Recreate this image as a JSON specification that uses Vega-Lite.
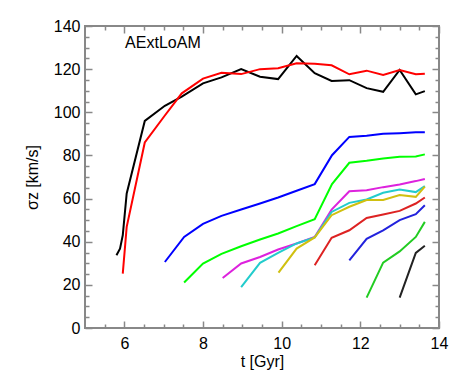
{
  "$schema": "https://vega.github.io/schema/vega-lite/v6.json",
  "width": 354,
  "height": 302,
  "autosize": {"type": "none"},
  "padding": {"left": 85, "top": 26, "right": 24, "bottom": 54},
  "background": "white",
  "config": {
    "view": {"stroke": "#888888", "strokeWidth": 2},
    "font": "Liberation Sans",
    "axis": {
      "domain": false,
      "grid": false,
      "tickColor": "#888888",
      "tickWidth": 1.5,
      "labelColor": "black",
      "labelFontSize": 16,
      "titleFontSize": 16,
      "titleFontWeight": "normal",
      "titleColor": "black"
    }
  },
  "data": {
    "values": [
      {"r": "a", "t": 5.80, "s": 33.7}, {"r": "a", "t": 5.89, "s": 36.8}, {"r": "a", "t": 5.96, "s": 43.0}, {"r": "a", "t": 6.06, "s": 62.4},
      {"r": "a", "t": 6.52, "s": 96.0}, {"r": "a", "t": 7.03, "s": 103.0}, {"r": "a", "t": 7.46, "s": 107.3}, {"r": "a", "t": 8.0, "s": 113.4},
      {"r": "a", "t": 8.47, "s": 116.2}, {"r": "a", "t": 8.97, "s": 120.0}, {"r": "a", "t": 9.45, "s": 116.5}, {"r": "a", "t": 9.91, "s": 115.4},
      {"r": "a", "t": 10.38, "s": 126.1}, {"r": "a", "t": 10.84, "s": 118.1}, {"r": "a", "t": 11.27, "s": 114.5}, {"r": "a", "t": 11.72, "s": 114.9},
      {"r": "a", "t": 12.16, "s": 111.2}, {"r": "a", "t": 12.58, "s": 109.5}, {"r": "a", "t": 13.0, "s": 119.6}, {"r": "a", "t": 13.41, "s": 108.3},
      {"r": "a", "t": 13.64, "s": 109.8},
      {"r": "b", "t": 5.96, "s": 25.2}, {"r": "b", "t": 6.06, "s": 46.9}, {"r": "b", "t": 6.52, "s": 86.0}, {"r": "b", "t": 7.03, "s": 98.5},
      {"r": "b", "t": 7.46, "s": 108.8}, {"r": "b", "t": 8.0, "s": 115.6}, {"r": "b", "t": 8.47, "s": 118.3}, {"r": "b", "t": 8.97, "s": 117.7},
      {"r": "b", "t": 9.45, "s": 120.0}, {"r": "b", "t": 9.91, "s": 120.4}, {"r": "b", "t": 10.38, "s": 122.7}, {"r": "b", "t": 10.84, "s": 122.5},
      {"r": "b", "t": 11.27, "s": 121.8}, {"r": "b", "t": 11.72, "s": 117.6}, {"r": "b", "t": 12.16, "s": 119.3}, {"r": "b", "t": 12.58, "s": 117.3},
      {"r": "b", "t": 13.0, "s": 119.6}, {"r": "b", "t": 13.41, "s": 117.6}, {"r": "b", "t": 13.64, "s": 117.9},
      {"r": "c", "t": 7.03, "s": 30.6}, {"r": "c", "t": 7.52, "s": 42.2}, {"r": "c", "t": 8.0, "s": 48.3}, {"r": "c", "t": 8.47, "s": 52.0},
      {"r": "c", "t": 8.97, "s": 54.9}, {"r": "c", "t": 9.45, "s": 57.7}, {"r": "c", "t": 9.91, "s": 60.5}, {"r": "c", "t": 10.38, "s": 63.6},
      {"r": "c", "t": 10.84, "s": 66.7}, {"r": "c", "t": 11.28, "s": 80.1}, {"r": "c", "t": 11.72, "s": 88.6}, {"r": "c", "t": 12.16, "s": 89.1},
      {"r": "c", "t": 12.58, "s": 90.0}, {"r": "c", "t": 13.0, "s": 90.3}, {"r": "c", "t": 13.41, "s": 90.7}, {"r": "c", "t": 13.64, "s": 90.7},
      {"r": "d", "t": 7.52, "s": 21.1}, {"r": "d", "t": 8.0, "s": 29.9}, {"r": "d", "t": 8.47, "s": 34.4}, {"r": "d", "t": 8.97, "s": 37.9},
      {"r": "d", "t": 9.45, "s": 41.0}, {"r": "d", "t": 9.91, "s": 43.8}, {"r": "d", "t": 10.38, "s": 47.2}, {"r": "d", "t": 10.84, "s": 50.4},
      {"r": "d", "t": 11.28, "s": 66.7}, {"r": "d", "t": 11.72, "s": 76.6}, {"r": "d", "t": 12.16, "s": 77.5}, {"r": "d", "t": 12.58, "s": 78.6},
      {"r": "d", "t": 13.0, "s": 79.4}, {"r": "d", "t": 13.41, "s": 79.5}, {"r": "d", "t": 13.64, "s": 80.5},
      {"r": "e", "t": 8.50, "s": 23.2}, {"r": "e", "t": 8.97, "s": 29.9}, {"r": "e", "t": 9.45, "s": 32.9}, {"r": "e", "t": 9.91, "s": 36.4},
      {"r": "e", "t": 10.38, "s": 39.2}, {"r": "e", "t": 10.84, "s": 42.2}, {"r": "e", "t": 11.27, "s": 54.9}, {"r": "e", "t": 11.72, "s": 63.4},
      {"r": "e", "t": 12.16, "s": 63.9}, {"r": "e", "t": 12.58, "s": 65.3}, {"r": "e", "t": 13.0, "s": 66.5}, {"r": "e", "t": 13.41, "s": 68.1},
      {"r": "e", "t": 13.64, "s": 69.1},
      {"r": "f", "t": 8.97, "s": 19.0}, {"r": "f", "t": 9.45, "s": 30.2}, {"r": "f", "t": 9.91, "s": 34.8}, {"r": "f", "t": 10.38, "s": 39.2},
      {"r": "f", "t": 10.84, "s": 42.0}, {"r": "f", "t": 11.27, "s": 53.8}, {"r": "f", "t": 11.72, "s": 58.0}, {"r": "f", "t": 12.16, "s": 59.6},
      {"r": "f", "t": 12.58, "s": 62.7}, {"r": "f", "t": 13.0, "s": 64.2}, {"r": "f", "t": 13.41, "s": 63.0}, {"r": "f", "t": 13.64, "s": 65.8},
      {"r": "g", "t": 9.92, "s": 25.7}, {"r": "g", "t": 10.38, "s": 36.8}, {"r": "g", "t": 10.84, "s": 42.0}, {"r": "g", "t": 11.27, "s": 52.3},
      {"r": "g", "t": 11.72, "s": 56.2}, {"r": "g", "t": 12.16, "s": 59.3}, {"r": "g", "t": 12.58, "s": 59.3}, {"r": "g", "t": 13.0, "s": 61.6},
      {"r": "g", "t": 13.41, "s": 60.8}, {"r": "g", "t": 13.64, "s": 65.5},
      {"r": "h", "t": 10.84, "s": 29.1}, {"r": "h", "t": 11.27, "s": 41.8}, {"r": "h", "t": 11.72, "s": 45.3}, {"r": "h", "t": 12.16, "s": 51.0},
      {"r": "h", "t": 12.58, "s": 52.6}, {"r": "h", "t": 13.0, "s": 54.3}, {"r": "h", "t": 13.41, "s": 57.7}, {"r": "h", "t": 13.64, "s": 60.5},
      {"r": "i", "t": 11.72, "s": 31.4}, {"r": "i", "t": 12.16, "s": 41.3}, {"r": "i", "t": 12.58, "s": 45.3}, {"r": "i", "t": 13.0, "s": 50.0},
      {"r": "i", "t": 13.41, "s": 52.8}, {"r": "i", "t": 13.64, "s": 56.9},
      {"r": "j", "t": 12.16, "s": 14.1}, {"r": "j", "t": 12.58, "s": 30.3}, {"r": "j", "t": 13.0, "s": 35.5}, {"r": "j", "t": 13.41, "s": 42.2},
      {"r": "j", "t": 13.64, "s": 49.2},
      {"r": "k", "t": 13.0, "s": 14.1}, {"r": "k", "t": 13.41, "s": 34.8}, {"r": "k", "t": 13.64, "s": 38.1}
    ]
  },
  "layer": [
    {
      "mark": {"type": "line", "strokeWidth": 2, "clip": true},
      "encoding": {
        "x": {
          "field": "t", "type": "quantitative",
          "scale": {"domain": [5, 14], "nice": false, "zero": false},
          "axis": {
            "orient": "bottom",
            "title": "t [Gyr]",
            "values": [6, 8, 10, 12, 14],
            "format": "d",
            "ticks": false,
            "labelPadding": 7,
            "labelFlush": false,
            "labelOverlap": false,
            "titlePadding": 2
          }
        },
        "y": {
          "field": "s", "type": "quantitative",
          "scale": {"domain": [0, 140], "nice": false, "zero": false},
          "axis": {
            "orient": "left",
            "title": "σz [km/s]",
            "values": [0, 20, 40, 60, 80, 100, 120, 140],
            "format": "d",
            "ticks": false,
            "labelPadding": 5,
            "labelFlush": false,
            "labelOverlap": false,
            "titlePadding": 13
          }
        },
        "color": {
          "field": "r", "type": "nominal", "legend": null,
          "scale": {
            "domain": ["a", "b", "c", "d", "e", "f", "g", "h", "i", "j", "k"],
            "range": ["#000000", "#ff0000", "#0000ff", "#00ff00", "#dd22dd", "#22cccc", "#d0c010", "#dd2222", "#2222dd", "#22cc22", "#222222"]
          }
        },
        "order": {"field": "t", "type": "quantitative"}
      }
    },
    {
      "data": {"values": [{"t": 6.02, "s": 130, "label": "AExtLoAM"}]},
      "mark": {"type": "text", "align": "left", "baseline": "alphabetic", "fontSize": 16, "color": "black"},
      "encoding": {
        "x": {
          "field": "t", "type": "quantitative",
          "axis": {
            "orient": "top",
            "offset": -302,
            "title": null,
            "values": [5.5, 6, 6.5, 7, 7.5, 8, 8.5, 9, 9.5, 10, 10.5, 11, 11.5, 12, 12.5, 13, 13.5, 14],
            "labels": false,
            "tickSize": {"condition": {"test": "datum.value % 2 === 0", "value": 7}, "value": 4}
          }
        },
        "y": {
          "field": "s", "type": "quantitative",
          "axis": {
            "orient": "right",
            "offset": -354,
            "title": null,
            "values": [0, 5, 10, 15, 20, 25, 30, 35, 40, 45, 50, 55, 60, 65, 70, 75, 80, 85, 90, 95, 100, 105, 110, 115, 120, 125, 130, 135, 140],
            "labels": false,
            "tickSize": {"condition": {"test": "datum.value % 20 === 0", "value": 7}, "value": 4}
          }
        },
        "text": {"field": "label"}
      }
    },
    {
      "mark": {"type": "point", "opacity": 0},
      "encoding": {
        "x": {
          "field": "t", "type": "quantitative",
          "axis": {
            "orient": "bottom",
            "offset": -302,
            "title": null,
            "values": [5.5, 6, 6.5, 7, 7.5, 8, 8.5, 9, 9.5, 10, 10.5, 11, 11.5, 12, 12.5, 13, 13.5, 14],
            "labels": false,
            "tickSize": {"condition": {"test": "datum.value % 2 === 0", "value": 7}, "value": 4}
          }
        },
        "y": {
          "field": "s", "type": "quantitative",
          "axis": {
            "orient": "left",
            "offset": -354,
            "title": null,
            "values": [0, 5, 10, 15, 20, 25, 30, 35, 40, 45, 50, 55, 60, 65, 70, 75, 80, 85, 90, 95, 100, 105, 110, 115, 120, 125, 130, 135, 140],
            "labels": false,
            "tickSize": {"condition": {"test": "datum.value % 20 === 0", "value": 7}, "value": 4}
          }
        }
      }
    }
  ],
  "resolve": {"axis": {"x": "independent", "y": "independent"}}
}
